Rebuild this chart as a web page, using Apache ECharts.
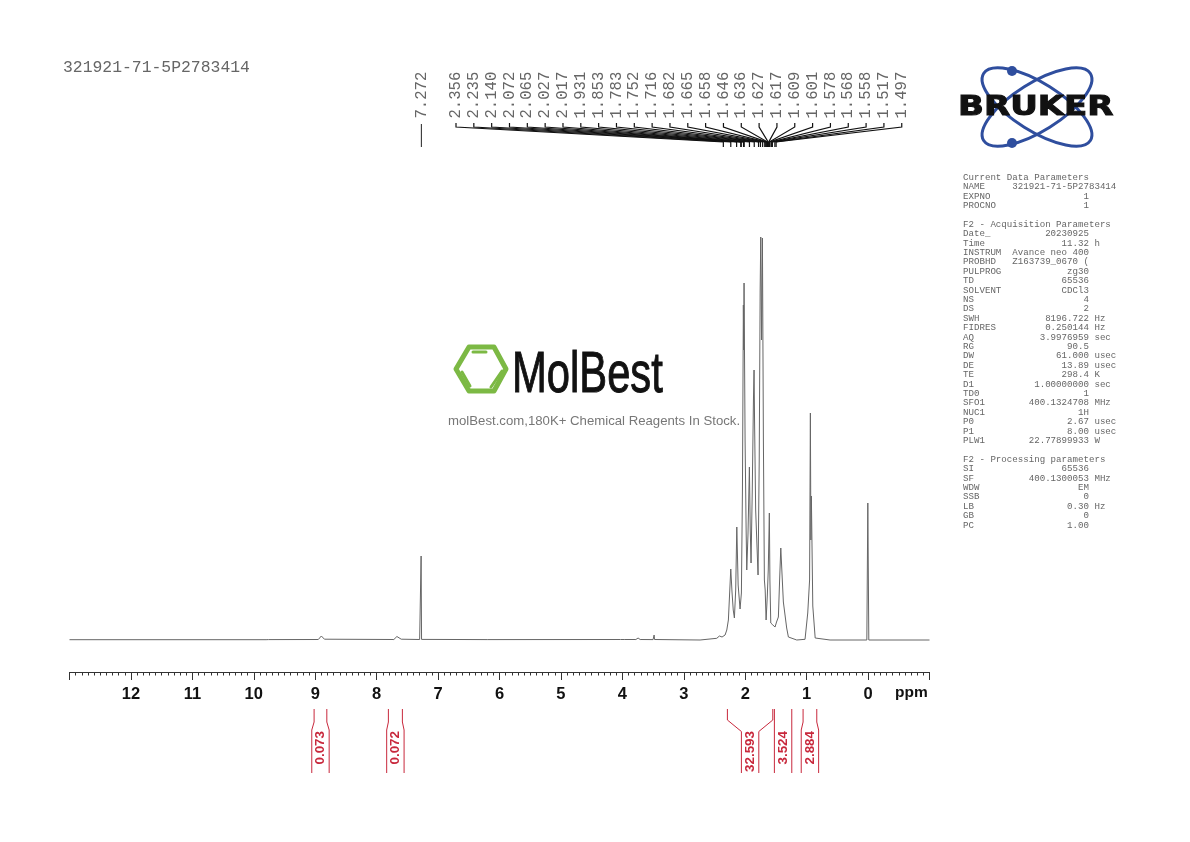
<!DOCTYPE html>
<html><head><meta charset="utf-8">
<style>html,body{margin:0;padding:0;background:#fff}#c{width:1190px;height:842px}</style>
<script src="https://cdn.jsdelivr.net/npm/echarts@6/dist/echarts.min.js"></script>
</head><body><div id="c"></div>
<script>
// spectrum vertices
const ppmPoints = [13,9.80,9.78,9.76,8.95,8.90,8.85,7.72,7.67,7.60,7.30,7.283,7.276,7.269,6.2,4.03,4.00,3.97,3.78,3.744,3.71,3.50,3.49,3.483,3.476,2.735,2.463,2.42,2.409,2.39,2.377,2.328,2.30,2.274,2.255,2.235,2.215,2.195,2.176,2.155,2.137,2.115,2.084,2.062,2.045,2.030,2.024,2.019,2.002,1.985,1.975,1.955,1.932,1.918,1.905,1.885,1.866,1.856,1.848,1.83,1.791,1.772,1.757,1.747,1.734,1.720,1.704,1.688,1.675,1.660,1.64,1.625,1.607,1.598,1.584,1.55,1.53,1.514,1.49,1.460,1.44,1.421,1.40,1.379,1.365,1.351,1.325,1.297,1.161,1.026,0.982,0.952,0.939,0.931,0.923,0.900,0.861,0.619,0.02,0.004,-0.012,-1];
const intensity = [0.3,0.3,2,0.4,0.5,4,0.8,0.5,3.5,0.8,0.5,0.6,84,0.6,0.4,0.5,2,0.5,0.5,2,0.5,0.4,0.5,5,0.5,0,1.7,4,3,4.5,3,5,10,20,45,71,48,30,22,50,113,55,31,47,150,335,290,357,200,110,70,105,173,110,77,150,240,270,220,130,65,180,350,403,300,402,200,60,50,20,45,70,127,60,17,15,14,13,18,23,60,92,65,38,36,37,12,3,0,0.7,27,60,227,100,144,34,2,0,0,137,0,0];
// peak list
const peakLabels = ['2.356','2.235','2.140','2.072','2.065','2.027','2.017','1.931','1.853','1.783','1.752','1.716','1.682','1.665','1.658','1.646','1.636','1.627','1.617','1.609','1.601','1.578','1.568','1.558','1.517','1.497'];
const singlePeakLabel = '7.272';
// integrals
const integralFrom = [9.018,7.809,2.290,1.525,1.058];
const integralTo = [8.811,7.581,1.551,1.242,0.835];
const integralValues = ['0.073','0.072','32.593','3.524','2.884'];
// axis
const axisMin = -1, axisMax = 13, axisStep = 1;
// text
const sampleName = '321921-71-5P2783414';
const paramSection1 = 'Current Data Parameters';
const paramRows = [
 ['NAME','321921-71-5P2783414','',true],['EXPNO','1',''],['PROCNO','1',''],null,
 'F2 - Acquisition Parameters',
 ['Date_','20230925',''],['Time','11.32','h'],['INSTRUM','Avance neo 400',''],['PROBHD','Z163739_0670 (',''],['PULPROG','zg30',''],['TD','65536',''],['SOLVENT','CDCl3',''],['NS','4',''],['DS','2',''],['SWH','8196.722','Hz'],['FIDRES','0.250144','Hz'],['AQ','3.9976959','sec'],['RG','90.5',''],['DW','61.000','usec'],['DE','13.89','usec'],['TE','298.4','K'],['D1','1.00000000','sec'],['TD0','1',''],['SFO1','400.1324708','MHz'],['NUC1','1H',''],['P0','2.67','usec'],['P1','8.00','usec'],['PLW1','22.77899933','W'],null,
 'F2 - Processing parameters',
 ['SI','65536',''],['SF','400.1300053','MHz'],['WDW','EM',''],['SSB','0',''],['LB','0.30','Hz'],['GB','0',''],['PC','1.00','']
];

const MONO = '"Liberation Mono"', SANS = '"Liberation Sans"';
const RED = '#c8283c', INK = '#333';
const graphics = [];
function txt(x,y,text,font,fill){graphics.push({type:'text',x:x,y:y,silent:true,style:{text:text,font:font,fill:fill,textVerticalAlign:'middle'}});}
txt(63,68,sampleName,'16.4px '+MONO,'#666');
txt(895,693,'ppm','bold 15.5px '+SANS,'#111');
// parameters
const rowLines=[paramSection1].concat(paramRows.map(r=>{
  if(r===null) return '';
  if(typeof r==='string') return r;
  if(r[3]) return r[0].padEnd(9)+r[1];
  return r[0].padEnd(8)+r[1].padStart(15)+(r[2]?' '+r[2]:'');
}));
rowLines.forEach((s,i)=>{ if(s) txt(963,177.5+9.395*i,s,'9.13px '+MONO,'#666'); });
// MolBest logo
graphics.push({type:'polygon',silent:true,shape:{points:[[456,369],[469,347],[494,347],[506,369],[494,391],[469,391]]},style:{fill:'none',stroke:'#7cb944',lineWidth:5,lineJoin:'round'}});
[[473,352,486,352],[462,372,470,386],[491,387,502,371]].forEach(l=>graphics.push({type:'line',silent:true,shape:{x1:l[0],y1:l[1],x2:l[2],y2:l[3]},style:{stroke:'#7cb944',lineWidth:3,lineCap:'round'}}));
graphics.push({type:'text',silent:true,x:512,y:376,scaleX:0.72,style:{text:'MolBest',font:'58px '+SANS,fill:'#111',stroke:'#111',lineWidth:1,textVerticalAlign:'middle'}});
txt(448,421,'molBest.com,180K+ Chemical Reagents In Stock.','13.2px '+SANS,'#777');
// Bruker logo
[0.56,-0.56].forEach(r=>graphics.push({type:'ellipse',silent:true,x:1037,y:107,rotation:r,shape:{cx:0,cy:0,rx:63,ry:24},style:{fill:'none',stroke:'#2f4e9e',lineWidth:3}}));
[[1012,71],[1012,143]].forEach(c=>graphics.push({type:'circle',silent:true,shape:{cx:c[0],cy:c[1],r:5},style:{fill:'#2f4e9e'}}));
graphics.push({type:'text',silent:true,x:958,y:108,scaleX:1.26,style:{text:'BRUKER',font:'900 27px "DejaVu Sans"',fill:'#111',stroke:'#111',lineWidth:1,textVerticalAlign:'middle'}});

const LABEL_X0=456, LABEL_DX=17.83;
function peakItem(params,api){
  const i=params.dataIndex, px=api.coord([api.value(0),0])[0], lx=LABEL_X0+LABEL_DX*i;
  const s={stroke:'#111',lineWidth:1.2,fill:'none'};
  return {type:'group',children:[
    {type:'text',x:lx,y:118.5,rotation:Math.PI/2,style:{text:peakLabels[i],font:'15.6px '+MONO,fill:'#666',textAlign:'left',textVerticalAlign:'middle'}},
    {type:'polyline',shape:{points:[[lx,123],[lx,127],[px,142],[px,147]]},style:s}
  ]};
}
function singleItem(params,api){
  const px=api.coord([api.value(0),0])[0];
  return {type:'group',children:[
    {type:'text',x:px,y:118.5,rotation:Math.PI/2,style:{text:singlePeakLabel,font:'15.6px '+MONO,fill:'#666',textAlign:'left',textVerticalAlign:'middle'}},
    {type:'line',shape:{x1:px,y1:124,x2:px,y2:147},style:{stroke:'#222',lineWidth:1}}
  ]};
}
function integralItem(params,api){
  const a=api.coord([api.value(0),0])[0], b=api.coord([api.value(1),0])[0];
  const c=(a+b)/2, h=(b-a)/2, bh=8.7, s={stroke:RED,lineWidth:1,fill:'none'};
  const wide=h>12, y1=wide?720:722, y2=wide?731.5:730;
  return {type:'group',children:[
    {type:'polyline',shape:{points:[[a,709],[a,y1],[c-bh,y2],[c-bh,773]]},style:s},
    {type:'polyline',shape:{points:[[b,709],[b,y1],[c+bh,y2],[c+bh,773]]},style:s},
    {type:'text',x:c,y:731,rotation:Math.PI/2,style:{text:integralValues[params.dataIndex],font:'bold 13.4px '+SANS,fill:RED,textAlign:'right',textVerticalAlign:'middle'}}
  ]};
}

const chart=echarts.init(document.getElementById('c'),null,{renderer:'canvas'});
chart.setOption({
  animation:false,backgroundColor:'#fff',
  grid:{left:69.5,right:260.5,top:0,bottom:170},
  xAxis:{type:'value',inverse:true,min:axisMin,max:axisMax,interval:axisStep,position:'bottom',
    axisLine:{onZero:false,show:true,lineStyle:{color:INK,width:1}},
    axisTick:{show:true,length:8,inside:false,lineStyle:{color:INK,width:1}},
    minorTick:{show:true,splitNumber:10,length:3.5,lineStyle:{color:INK,width:1}},
    splitLine:{show:false},minorSplitLine:{show:false},
    axisLabel:{margin:14,color:'#111',fontFamily:SANS,fontWeight:'bold',fontSize:16.5,
      formatter:v=>(v===axisMin||v===axisMax)?'':String(v)}},
  yAxis:{type:'value',show:false,min:-32,max:640},
  graphic:{elements:graphics},
  series:[
    {type:'line',data:ppmPoints.map((p,i)=>[p,intensity[i]]),showSymbol:false,sampling:'none',clip:false,
      lineStyle:{color:'#666',width:1},silent:true},
    {type:'custom',coordinateSystem:'cartesian2d',clip:false,silent:true,renderItem:peakItem,encode:{x:0,y:1},
      data:peakLabels.map(s=>[parseFloat(s),0])},
    {type:'custom',coordinateSystem:'cartesian2d',clip:false,silent:true,renderItem:singleItem,encode:{x:0,y:1},
      data:[[parseFloat(singlePeakLabel),0]]},
    {type:'custom',coordinateSystem:'cartesian2d',clip:false,silent:true,renderItem:integralItem,encode:{x:[0,1],y:2},
      data:integralFrom.map((f,i)=>[f,integralTo[i],0])}
  ]
});
</script></body></html>
